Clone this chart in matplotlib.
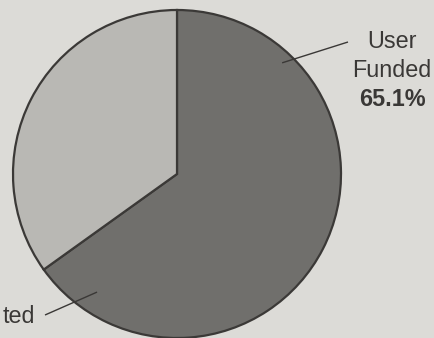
import numpy as np
import matplotlib
matplotlib.use("Agg")
import matplotlib.pyplot as plt

# Funding shares (percent)
labels = ["User\nFunded", "ted"]
shares = [65.1, 34.9]
share_text = ["65.1%", ""]
colors = ["#706f6c", "#b9b8b4"]

W, H = 435, 338
fig = plt.figure(figsize=(W / 100, H / 100), dpi=100)
bg = "#dcdbd7"
fig.patch.set_facecolor(bg)
ax = fig.add_axes([0, 0, 1, 1])
ax.set_facecolor(bg)
ax.set_xlim(0, W)
ax.set_ylim(0, H)
ax.set_aspect("equal")
ax.axis("off")

cx, cy, R = 177, 164, 164
ax.pie(shares, colors=colors, startangle=90, counterclock=False,
       center=(cx, cy), radius=R, frame=True,
       wedgeprops=dict(edgecolor="#3b3937", linewidth=1.6))
ax.set_xlim(0, W)
ax.set_ylim(0, H)
ax.axis("off")

txt_color = "#3a3836"
fam = ["Liberation Sans", "DejaVu Sans"]
fs = 16.8


def leader(angle_deg, r_in, end):
    a = np.deg2rad(angle_deg)
    x0, y0 = cx + r_in * np.cos(a), cy + r_in * np.sin(a)
    ax.plot([x0, end[0]], [y0, end[1]], color=txt_color, lw=1.0,
            solid_capstyle="butt")


# User Funded label
leader(46.6, 153, (348, H - 42))
ax.text(392, H - 48, "User", ha="center", va="baseline", fontsize=fs,
        family=fam, color=txt_color)
ax.text(392, H - 77, "Funded", ha="center", va="baseline", fontsize=fs,
        family=fam, color=txt_color)
ax.text(392, H - 106, share_text[0], ha="center", va="baseline", fontsize=fs,
        family=fam, color=txt_color, fontweight="bold")

# lower-left label
leader(235.9, 142.6, (45, H - 315))
ax.text(35.5, H - 323, labels[1], ha="right", va="baseline", fontsize=fs,
        family=fam, color=txt_color)

fig.savefig("out.png", dpi=100, facecolor=bg)
